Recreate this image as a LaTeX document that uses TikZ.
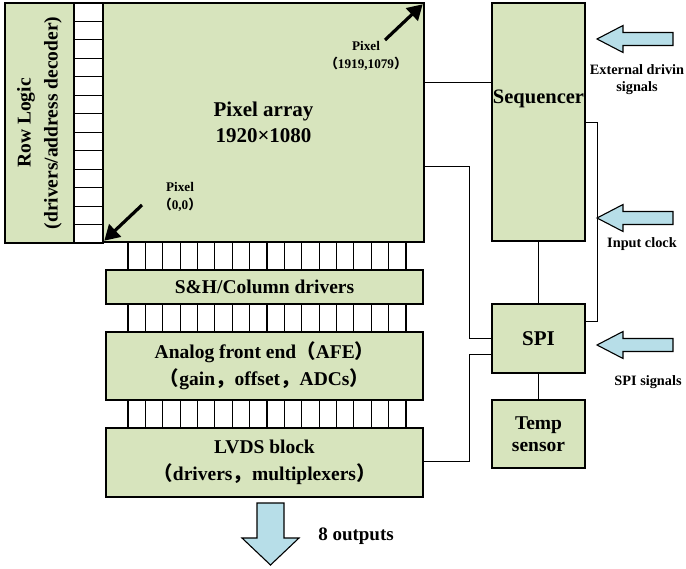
\documentclass[tikz,border=0pt]{standalone}
\usepackage{fontspec}
\setmainfont{Liberation Serif}
\newfontfamily\cjk{Noto Sans CJK SC}
\usetikzlibrary{arrows.meta}
\definecolor{boxgreen}{HTML}{D7E4BD}
\definecolor{arrowblue}{HTML}{B7DEE8}
\newcommand{\fw}[1]{{\cjk #1}}
\begin{document}
\begin{tikzpicture}[x=1pt,y=-1pt,
  blk/.style={draw=black, line width=1.4pt, fill=boxgreen, inner sep=0pt, align=center},
  cell/.style={draw=black, line width=1.1pt, fill=white},
  wire/.style={draw=black, line width=1.3pt},
  fat/.style={draw=black, line width=1.1pt, fill=arrowblue},
  ptr/.style={line width=3.2pt, -{Triangle[length=15pt,width=17pt]}},
  lbl/.style={align=center, inner sep=0pt},
  big/.style={font=\bfseries\fontsize{21}{26}\selectfont},
  mid/.style={font=\bfseries\fontsize{19.5}{27}\selectfont},
  small/.style={font=\bfseries\fontsize{13.2}{18}\selectfont},
  side/.style={font=\bfseries\fontsize{14.3}{17}\selectfont},
  lefta/.pic={\path[fat] (0,0) -- (26,-13.5) -- (26,-6.5) -- (76,-6.5) -- (76,6.5) -- (26,6.5) -- (26,13.5) -- cycle;}]
\useasboundingbox (0,0) rectangle (686,569);
% grids
\foreach \i in {0,...,12} \draw[cell] (74,3+\i*18.4615) rectangle ++(29,18.4615);
\foreach \y in {242,304,400} \foreach \i in {0,...,15} \draw[cell] (128+\i*17.375,\y) rectangle ++(17.375,28);
% blocks
\node[blk, rotate=90, minimum width=240pt, minimum height=69pt, mid] (row) at (39.5,123) {Row Logic\\(drivers/address decoder)};
\node[blk, minimum width=321pt, minimum height=239pt, big] (pa) at (263.5,122.5) {Pixel array\\1920×1080};
\node[blk, minimum width=93pt, minimum height=238pt] (seq) at (538.5,122) {};
\node[lbl, font=\bfseries\fontsize{20.5}{26}\selectfont] (seqt) at (538.5,99) {Sequencer};
\node[blk, minimum width=93pt, minimum height=69pt, big] (spi) at (538.5,338.5) {SPI};
\node[blk, minimum width=93pt, minimum height=68pt, font=\bfseries\fontsize{19.5}{22}\selectfont] (temp) at (538.5,434) {Temp\\sensor};
\node[blk, minimum width=317pt, minimum height=34pt, mid] (sh) at (264.5,287) {S\&H/Column drivers};
\node[blk, minimum width=317pt, minimum height=68pt, mid] (afe) at (264.5,366) {Analog front end\fw{（}AFE\fw{）}\\\fw{（}gain\fw{，}offset\fw{，}ADCs\fw{）}};
\node[blk, minimum width=317pt, minimum height=69pt, mid] (lvds) at (264.5,462.5) {LVDS block\\\fw{（}drivers\fw{，}multiplexers\fw{）}};
% wires
\draw[wire] ([yshift=-80pt]pa.north east) -- ([yshift=-80pt]seq.north west);
\draw[wire] ([yshift=-164pt]pa.north east) -- ++(45,0) |- ([yshift=-35pt]spi.north west);
\draw[wire] ([yshift=-34pt]lvds.north east) -- ++(46,0) |- ([yshift=-51pt]spi.north west);
\draw[wire] (seq.south) -- (spi.north);
\draw[wire] (spi.south) -- (temp.north);
\draw[wire] ([yshift=-120pt]seq.north east) -- ++(12,0) |- ([yshift=-18pt]spi.north east);
% big arrows
\pic at (597,39) {lefta};
\pic at (597,218) {lefta};
\pic at (597,345) {lefta};
\path[fat] (257,503) -- (284,503) -- (284,538) -- (299,538) -- (270.5,565) -- (242,538) -- (257,538) -- cycle;
% pixel pointers
\draw[ptr] (385,40) -- ([xshift=-2pt,yshift=-2pt]pa.north east);
\draw[ptr] (142,205) -- ([xshift=2pt,yshift=2pt]pa.south west);
% labels
\node[lbl, small] (p1) at (366,56) {Pixel\\\fw{（}1919,1079\fw{）}};
\node[lbl, small] (p0) at (180,197) {Pixel\\\fw{（}0,0\fw{）}};
\node[lbl, side] (ext) at (637,80) {External drivin\\signals};
\node[lbl, side] (clk) at (642,244) {Input clock};
\node[lbl, side] (spis) at (648,382) {SPI signals};
\node[lbl, font=\bfseries\fontsize{19}{22}\selectfont] (outs) at (356,536) {8 outputs};
\end{tikzpicture}
\end{document}
